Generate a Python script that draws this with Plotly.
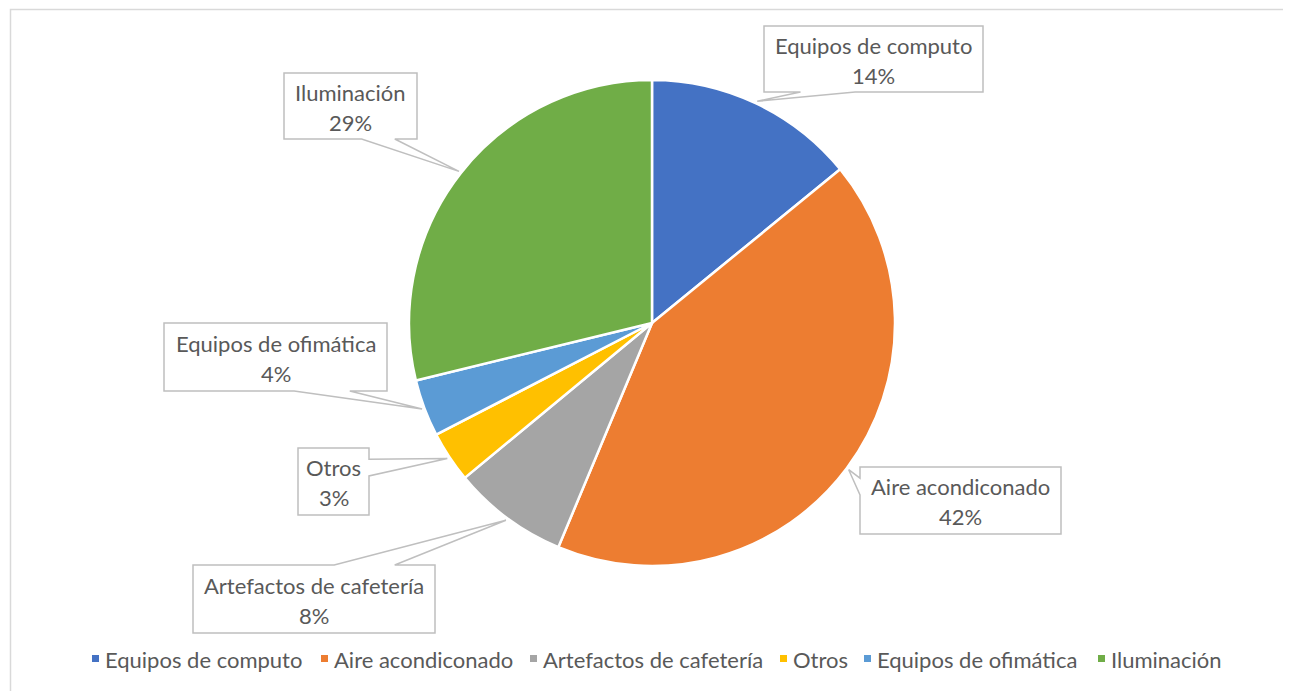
import plotly.graph_objects as go
import math

# ---- data ----
categories = ["Equipos de computo", "Aire acondiconado", "Artefactos de cafetería",
              "Otros", "Equipos de ofimática", "Iluminación"]
values = [14.1, 42.2, 7.7, 3.4, 3.8, 28.8]
colors = ["#4472C4", "#ED7D31", "#A5A5A5", "#FFC000", "#5B9BD5", "#70AD47"]

# ---- layout constants (screen pixels) ----
W, H = 1291, 691
OFF = 8  # page body margin
FW, FH = W - OFF, H - OFF
CX, CY, R = 652, 323, 243
# callout boxes: (left, top, right, bottom)
boxes = [(764, 26, 983, 92), (860, 467, 1061, 534), (193, 565, 435, 633),
         (298, 448, 369, 515), (164, 323, 387, 391), (284, 73, 417, 139)]
legend_marker_x = [92, 321, 530, 780, 864, 1098]
legend_y = 659

FONT = "Lato"
TXT = "#595959"
FS = 22


def px_x(p):
    return (p - OFF) / FW


def px_y(p):
    return 1 - (p - OFF) / FH


fig = go.Figure()
fig.add_trace(go.Pie(
    labels=categories, values=values, sort=False, direction="clockwise", rotation=0,
    marker=dict(colors=colors, line=dict(color="white", width=2.5)),
    textinfo="none", showlegend=False,
    domain=dict(x=[px_x(CX - R), px_x(CX + R)], y=[px_y(CY + R), px_y(CY - R)]),
))

total = sum(values)
shapes = []
annotations = []


def callout_path(box, tip):
    l, t, r, b = box
    tx, ty = tip
    w, h = r - l, b - t
    cx, cy = (l + r) / 2, (t + b) / 2
    dx, dy = (tx - cx) / w, (ty - cy) / h
    if abs(dx) > abs(dy):
        side = "right" if dx > 0 else "left"
        f = (2 / 12, 5 / 12) if ty < cy else (7 / 12, 10 / 12)
    else:
        side = "bottom" if dy > 0 else "top"
        f = (2 / 12, 5 / 12) if tx < cx else (7 / 12, 10 / 12)
    pts = [(l, t)]
    if side == "top":
        pts += [(l + w * f[0], t), (tx, ty), (l + w * f[1], t)]
    pts.append((r, t))
    if side == "right":
        pts += [(r, t + h * f[0]), (tx, ty), (r, t + h * f[1])]
    pts.append((r, b))
    if side == "bottom":
        pts += [(l + w * f[1], b), (tx, ty), (l + w * f[0], b)]
    pts.append((l, b))
    if side == "left":
        pts += [(l, t + h * f[1]), (tx, ty), (l, t + h * f[0])]
    return "M" + " L".join(f"{x:.1f},{y:.1f}" for x, y in pts) + " Z"


cum = 0
for cat, v, col, box in zip(categories, values, colors, boxes):
    mid = (cum + v / 2) / total * 2 * math.pi
    cum += v
    tip = (CX + 1.01 * R * math.sin(mid), CY - 1.01 * R * math.cos(mid))
    shapes.append(dict(type="path", xref="x", yref="y", path=callout_path(box, tip),
                       fillcolor="white", line=dict(color="#BFBFBF", width=1.5), layer="above"))
    bx = (box[0] + box[2]) / 2
    by = (box[1] + box[3]) / 2
    annotations.append(dict(x=bx, y=by - 14, xref="x", yref="y", text=cat, showarrow=False,
                            xanchor="center", yanchor="middle",
                            font=dict(family=FONT, size=FS, color=TXT)))
    annotations.append(dict(x=bx, y=by + 16, xref="x", yref="y",
                            text=f"{round(v / total * 100)}%", showarrow=False,
                            xanchor="center", yanchor="middle",
                            font=dict(family=FONT, size=FS, color=TXT)))

# manual legend
for cat, col, mx in zip(categories, colors, legend_marker_x):
    shapes.append(dict(type="rect", xref="x", yref="y", x0=mx, x1=mx + 7,
                       y0=legend_y - 4, y1=legend_y + 3, fillcolor=col, line=dict(width=0),
                       layer="above"))
    annotations.append(dict(x=mx + 11, y=legend_y, xref="x", yref="y", text=cat,
                            showarrow=False, xanchor="left", yanchor="middle",
                            font=dict(family=FONT, size=FS, color=TXT)))

# chart border
shapes.append(dict(type="rect", xref="x", yref="y", x0=10.5, y0=9.5, x1=1300, y1=700,
                   line=dict(color="#D9D9D9", width=1.5), fillcolor="rgba(0,0,0,0)",
                   layer="below"))

fig.update_layout(
    width=FW, height=FH, margin=dict(l=0, r=0, t=0, b=0),
    paper_bgcolor="white", plot_bgcolor="white",
    xaxis=dict(range=[OFF, W], visible=False, domain=[0, 1], fixedrange=True),
    yaxis=dict(range=[H, OFF], visible=False, domain=[0, 1], fixedrange=True),
    shapes=shapes, annotations=annotations, showlegend=False,
)

fig.write_html("out.html")
